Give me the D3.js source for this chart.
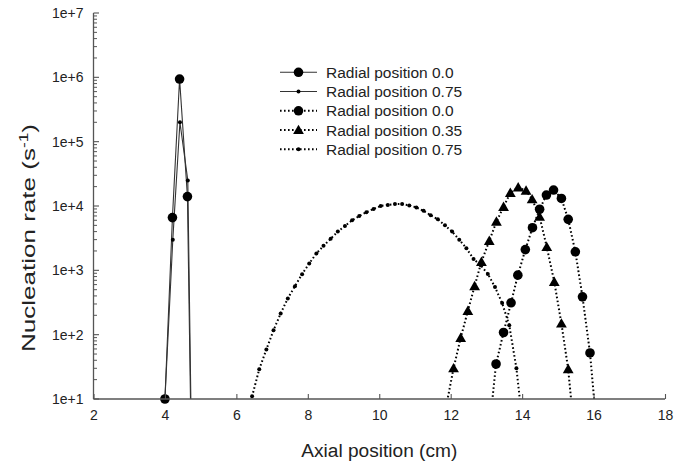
<!DOCTYPE html>
<html>
<head>
<meta charset="utf-8">
<script src="https://cdn.jsdelivr.net/npm/d3@7/dist/d3.min.js"></script>
<style>
  html, body { margin: 0; padding: 0; background: #fff; }
  svg { display: block; font-family: "Liberation Sans", Arial, sans-serif; }
</style>
</head>
<body>
<svg id="chart" width="676" height="463"></svg>
<script>
// Solid curves (short, sharp peak near the inlet)
const solidR00X = [4.0, 4.21, 4.41, 4.63, 4.8];
const solidR00Y = [10, 6600, 940000, 14000, 0.007];
const solidR075X = [4.0, 4.22, 4.42, 4.64, 4.8];
const solidR075Y = [10, 3000, 200000, 25000, 0.01];

// Dotted curves
const dotR00X = [13.07, 13.27, 13.48, 13.69, 13.88, 14.09, 14.29, 14.49, 14.68, 14.88, 15.10, 15.29, 15.49, 15.69, 15.90, 16.10];
const dotR00Y = [3, 35, 108, 313, 842, 2100, 4600, 8900, 14800, 17700, 13100, 6200, 1940, 387, 52, 3];

const dotR035X = [11.88, 12.08, 12.28, 12.48, 12.67, 12.86, 13.08, 13.28, 13.48, 13.67, 13.89, 14.11, 14.28, 14.49, 14.69, 14.90, 15.10, 15.29, 15.49];
const dotR035Y = [8, 30, 89, 234, 568, 1355, 2875, 5700, 9700, 16000, 19500, 17300, 12700, 6800, 2300, 662, 149, 29, 2];

const dotR075X = [6.24, 6.44, 6.64, 6.84, 7.04, 7.24, 7.44, 7.64, 7.84, 8.04, 8.24, 8.44, 8.64, 8.84, 9.04, 9.24, 9.44, 9.64, 9.84, 10.04, 10.24, 10.44, 10.64, 10.84, 11.04, 11.24, 11.44, 11.64, 11.84, 12.04, 12.24, 12.44, 12.64, 12.84, 13.04, 13.24, 13.44, 13.64, 13.84, 14.04];
const dotR075Y = [2, 11, 29, 59, 117, 214, 366, 568, 873, 1280, 1830, 2400, 3100, 4000, 4900, 6000, 7000, 8000, 9000, 10000, 10400, 10700, 10700, 10200, 9500, 8400, 7200, 6200, 5000, 4000, 3000, 2200, 1500, 1200, 880, 550, 310, 140, 30, 3];

// Axis ticks and labels
const xTicks = [2, 4, 6, 8, 10, 12, 14, 16, 18];
const yTicks = [1e1, 1e2, 1e3, 1e4, 1e5, 1e6, 1e7];
const yTickLabels = ["1e+1", "1e+2", "1e+3", "1e+4", "1e+5", "1e+6", "1e+7"];

const legendLabels = ["Radial position 0.0", "Radial position 0.75", "Radial position 0.0", "Radial position 0.35", "Radial position 0.75"];

const svg = d3.select("#chart");
const plotLeft = 93.5, plotRight = 665, plotTop = 13, plotBottom = 399;

const x = d3.scaleLinear().domain([2, 18]).range([plotLeft, plotRight]);
const y = d3.scaleLog().domain([10, 1e7]).range([plotBottom, plotTop]);

svg.append("defs").append("clipPath").attr("id", "plot")
  .append("rect").attr("x", plotLeft).attr("y", plotTop)
  .attr("width", plotRight - plotLeft).attr("height", plotBottom - plotTop);

const series = [
  { xs: solidR00X, ys: solidR00Y, dash: null, marker: "bigCircle", lw: 1.1 },
  { xs: solidR075X, ys: solidR075Y, dash: null, marker: "dot", lw: 1.1 },
  { xs: dotR00X, ys: dotR00Y, dash: "1.6,2.4", marker: "bigCircle", lw: 2 },
  { xs: dotR035X, ys: dotR035Y, dash: "1.6,2.4", marker: "triangle", lw: 2 },
  { xs: dotR075X, ys: dotR075Y, dash: "1.6,2.4", marker: "dot", lw: 2 }
];

function drawMarker(g, kind, cx, cy) {
  if (kind === "bigCircle") {
    g.append("circle").attr("cx", cx).attr("cy", cy).attr("r", 4.8).attr("fill", "#000");
  } else if (kind === "dot") {
    g.append("circle").attr("cx", cx).attr("cy", cy).attr("r", 2).attr("fill", "#000");
  } else if (kind === "triangle") {
    const s = 5.4;
    g.append("path")
      .attr("d", `M${cx},${cy - s}L${cx + s},${cy + s * 0.75}L${cx - s},${cy + s * 0.75}Z`)
      .attr("fill", "#000");
  }
}

const line = d3.line().x(d => x(d[0])).y(d => y(Math.max(d[1], 1e-3)));

const plotG = svg.append("g");
series.forEach(s => {
  const pts = s.xs.map((v, i) => [v, s.ys[i]]);
  const path = plotG.append("path")
    .attr("clip-path", "url(#plot)")
    .attr("d", line(pts))
    .attr("fill", "none")
    .attr("stroke", s.dash ? "#000" : "#333")
    .attr("stroke-width", s.lw);
  if (s.dash) path.attr("stroke-dasharray", s.dash);
});
series.forEach(s => {
  const mg = plotG.append("g");
  s.xs.forEach((v, i) => {
    if (s.ys[i] >= 10) drawMarker(mg, s.marker, x(v), y(s.ys[i]));
  });
});

// Axes
const axisColor = "#555";
const xAxis = d3.axisBottom(x).tickValues(xTicks).tickSize(-5).tickPadding(11).tickFormat(d3.format("d"));
const gx = svg.append("g").attr("transform", `translate(0,${plotBottom})`).call(xAxis);
gx.select(".domain").attr("stroke", axisColor).attr("stroke-width", 1.3).attr("d", `M${plotLeft},0H${plotRight}`);
gx.selectAll(".tick line").attr("stroke", axisColor).attr("stroke-width", 1.1);
gx.selectAll(".tick text").attr("font-size", 14).attr("fill", "#222").attr("font-family", "Liberation Sans, Arial, sans-serif");

// minor log ticks
const minor = [];
for (let e = 1; e < 7; e++) for (let m = 2; m <= 9; m++) minor.push(m * Math.pow(10, e));
const gy = svg.append("g").attr("transform", `translate(${plotLeft},0)`);
gy.append("path").attr("d", `M0,${plotBottom}V${plotTop}`).attr("stroke", axisColor).attr("stroke-width", 1.3).attr("fill", "none");
gy.selectAll(".minor").data(minor).join("line")
  .attr("x1", 0).attr("x2", 3.5).attr("y1", d => y(d)).attr("y2", d => y(d))
  .attr("stroke", axisColor).attr("stroke-width", 1);
gy.selectAll(".major").data(yTicks).join("line")
  .attr("x1", 0).attr("x2", 5.5).attr("y1", d => y(d)).attr("y2", d => y(d))
  .attr("stroke", axisColor).attr("stroke-width", 1.1);
gy.selectAll(".lbl").data(yTicks).join("text")
  .attr("x", -10).attr("y", d => y(d)).attr("dy", "0.35em")
  .attr("text-anchor", "end").attr("font-size", 14).attr("fill", "#222")
  .text((d, i) => yTickLabels[i]);

// Axis titles
svg.append("text").attr("x", (plotLeft + plotRight) / 2).attr("y", 457)
  .attr("text-anchor", "middle").attr("font-size", 18).attr("fill", "#222")
  .attr("textLength", 156).attr("lengthAdjust", "spacingAndGlyphs")
  .text("Axial position (cm)");

const yt = svg.append("text")
  .attr("transform", `translate(35,238) rotate(-90)`)
  .attr("text-anchor", "middle").attr("font-size", 18).attr("fill", "#222")
  .attr("textLength", 228).attr("lengthAdjust", "spacingAndGlyphs");
yt.append("tspan").text("Nucleation rate (s");
yt.append("tspan").attr("font-size", 12).attr("dy", -7).text("-1");
yt.append("tspan").attr("dy", 7).text(")");

// Legend
const lg = svg.append("g");
const rowY = i => 72.3 + i * 19.25;
series.forEach((s, i) => {
  const ly = rowY(i);
  const ln = lg.append("line").attr("x1", 280).attr("x2", 317).attr("y1", ly).attr("y2", ly)
    .attr("stroke", s.dash ? "#000" : "#333").attr("stroke-width", s.lw);
  if (s.dash) ln.attr("stroke-dasharray", s.dash);
  drawMarker(lg, s.marker, 298.5, ly);
  lg.append("text").attr("x", 326).attr("y", ly).attr("dy", "0.36em")
    .attr("font-size", 15.5).attr("fill", "#222").text(legendLabels[i]);
});
</script>
</body>
</html>
